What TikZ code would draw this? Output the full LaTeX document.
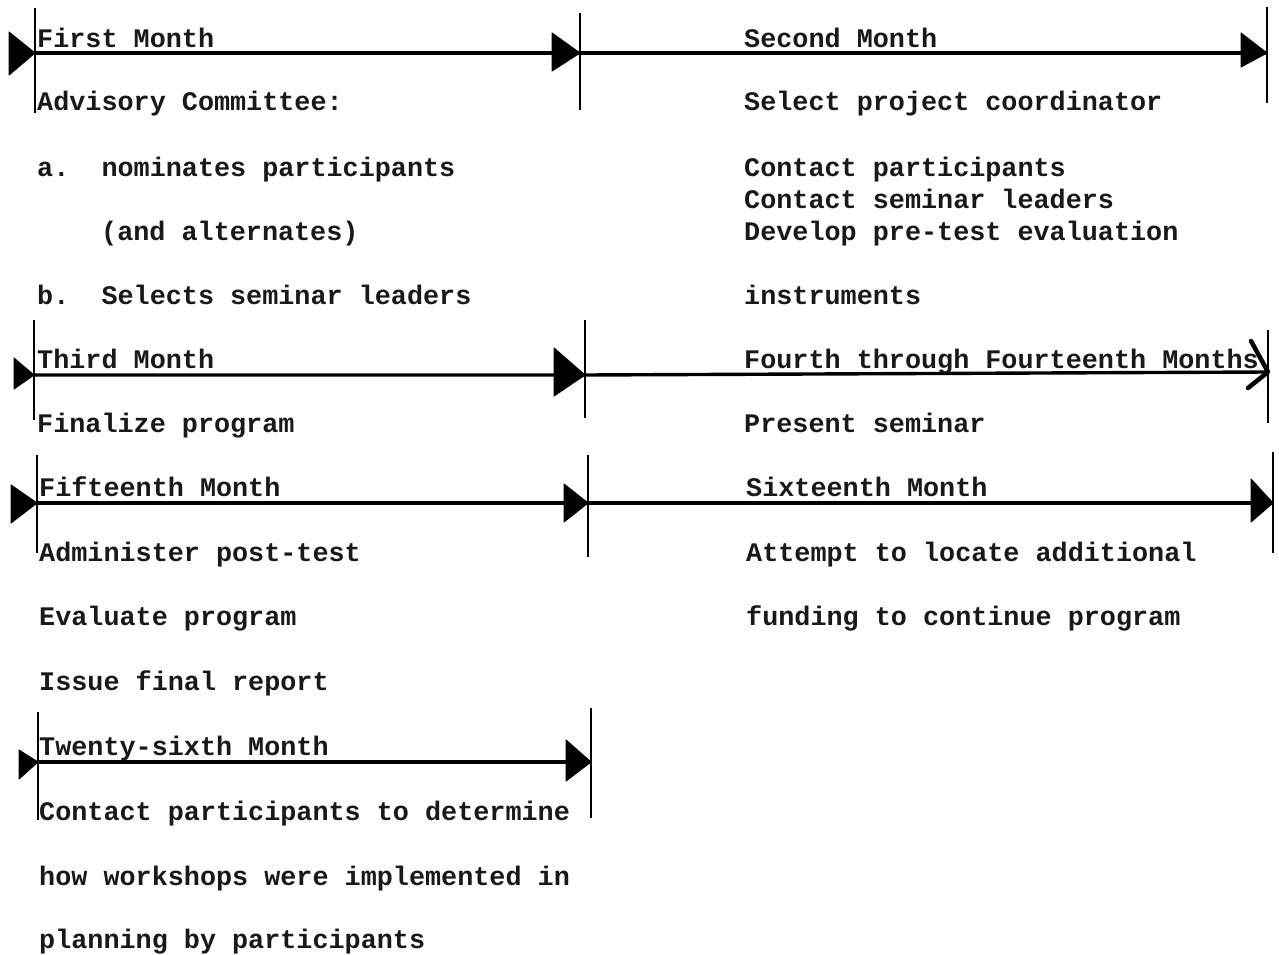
\documentclass[tikz,border=0pt]{standalone}
\usepackage{fontspec}
\setmainfont{Liberation Mono}
\begin{document}
\begin{tikzpicture}[x=1pt,y=-1pt,
  txt/.style={anchor=base west,inner sep=0pt,font=\fontsize{26.8}{30}\selectfont\bfseries,text=black!90},
  tline/.style={line width=3.4pt,black},
  bar/.style={line width=2.8pt,black},
  tri/.style={fill=black,draw=black,line width=1pt,line join=round}]
\useasboundingbox (0,0) rectangle (1279,955);
% ---------- Row 1 ----------
\coordinate (r1a) at (35,53); \coordinate (r1b) at (580,53); \coordinate (r1c) at (1267,53);
\draw[bar] (35,8) -- (35,113);
\draw[bar] (580,13) -- (580,110);
\draw[bar] (1267,7) -- (1267,103);
\draw[tline] (r1a) -- (r1b) -- (r1c);
\fill[tri] (9,32) -- (r1a) -- (9,75) -- cycle;
\fill[tri] (552,33) -- (r1b) -- (552,71) -- cycle;
\fill[tri] (1241,33) -- (r1c) -- (1241,67) -- cycle;
\node[txt] (t1) at (37,48) {First Month};
\node[txt] (t2) at (37,111) {Advisory Committee:};
\node[txt] (t3) at (37,176) {a.\ \ nominates participants};
\node[txt] (t4) at (101,240) {(and alternates)};
\node[txt] (t5) at (37,304) {b.\ \ Selects seminar leaders};
\node[txt] (t6) at (744,48) {Second Month};
\node[txt] (t7) at (744,111) {Select project coordinator};
\node[txt] (t8) at (744,176) {Contact participants};
\node[txt] (t9) at (744,208) {Contact seminar leaders};
\node[txt] (t10) at (744,240) {Develop pre-test evaluation};
\node[txt] (t11) at (744,304) {instruments};
% ---------- Row 2 ----------
\coordinate (r2a) at (34,375); \coordinate (r2b) at (585,375); \coordinate (r2c) at (1268,372);
\draw[bar] (34,320) -- (34,420);
\draw[bar] (585,320) -- (585,418);
\draw[bar] (1268,330) -- (1268,423);
\draw[tline] (r2a) -- (r2b) -- (r2c);
\fill[tri] (14,358) -- (r2a) -- (14,389) -- cycle;
\fill[tri] (554,348) -- (r2b) -- (554,396) -- cycle;
\draw[line width=4.5pt,line cap=round,line join=round] (1251,341) -- (r2c) -- (1248,388);
\node[txt] (t12) at (37,368) {Third Month};
\node[txt] (t13) at (744,368) {Fourth through Fourteenth Months};
\node[txt] (t14) at (37,432) {Finalize program};
\node[txt] (t15) at (744,432) {Present seminar};
% ---------- Row 3 ----------
\coordinate (r3a) at (37,503); \coordinate (r3b) at (588,503); \coordinate (r3c) at (1273,503);
\draw[bar] (37,455) -- (37,553);
\draw[bar] (588,455) -- (588,557);
\draw[bar] (1273,452) -- (1273,553);
\draw[tline] (r3a) -- (r3b) -- (r3c);
\fill[tri] (11,485) -- (r3a) -- (11,523) -- cycle;
\fill[tri] (564,484) -- (r3b) -- (564,522) -- cycle;
\fill[tri] (1251,479) -- (r3c) -- (1251,522) -- cycle;
\node[txt] (t16) at (39,496) {Fifteenth Month};
\node[txt] (t17) at (746,496) {Sixteenth Month};
\node[txt] (t18) at (39,561) {Administer post-test};
\node[txt] (t19) at (39,625) {Evaluate program};
\node[txt] (t20) at (39,690) {Issue final report};
\node[txt] (t21) at (746,561) {Attempt to locate additional};
\node[txt] (t22) at (746,625) {funding to continue program};
% ---------- Row 4 ----------
\coordinate (r4a) at (38,762); \coordinate (r4b) at (591,762);
\draw[bar] (38,712) -- (38,820);
\draw[bar] (591,708) -- (591,818);
\draw[tline] (r4a) -- (r4b);
\fill[tri] (19,750) -- (r4a) -- (19,779) -- cycle;
\fill[tri] (566,740) -- (r4b) -- (566,781) -- cycle;
\node[txt] (t23) at (39,755) {Twenty-sixth Month};
\node[txt] (t24) at (39,820) {Contact participants to determine};
\node[txt] (t25) at (39,885) {how workshops were implemented in};
\node[txt] (t26) at (39,948) {planning by participants};
\end{tikzpicture}
\end{document}
